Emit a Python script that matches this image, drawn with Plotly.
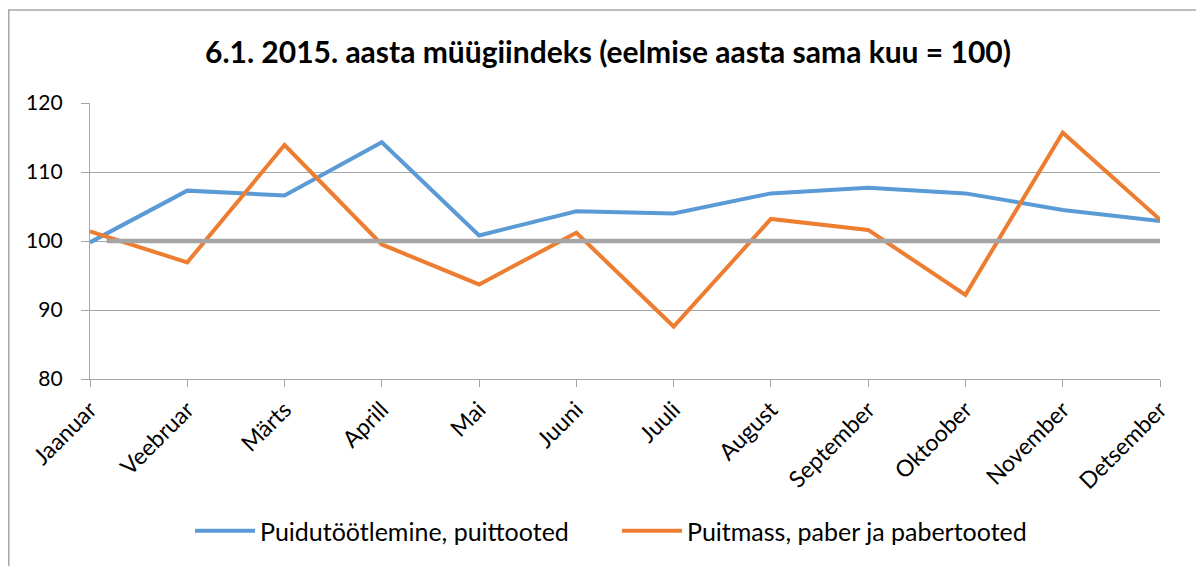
import plotly.graph_objects as go

months = ["Jaanuar", "Veebruar", "Märts", "Aprill", "Mai", "Juuni", "Juuli",
          "August", "September", "Oktoober", "November", "Detsember"]
puidutootlemine = [99.8, 107.3, 106.6, 114.3, 100.8, 104.3, 104.0, 106.9, 107.7, 106.9, 104.5, 102.9]
puitmass = [101.4, 96.9, 113.9, 99.5, 93.7, 101.2, 87.6, 103.2, 101.6, 92.2, 115.7, 103.1]
baseline = 100
yticks = [80, 90, 100, 110, 120]
names = ["Puidutöötlemine, puittooted", "Puitmass, paber ja pabertooted"]

font = "Lato, 'Open Sans', sans-serif"
x = list(range(len(months)))

W, H = 1196, 558
L, R, T, B = 82, 44, 95, 187
pw, ph = W - L - R, H - T - B

fig = go.Figure()
fig.add_trace(go.Scatter(x=x, y=puidutootlemine, mode="lines", name=names[0],
                         line=dict(color="#5B9BD5", width=4), legend="legend"))
fig.add_trace(go.Scatter(x=x, y=puitmass, mode="lines", name=names[1],
                         line=dict(color="#ED7D31", width=4), legend="legend2"))

fig.add_shape(type="line", xref="x", yref="y", x0=0.17, x1=11.13, y0=baseline, y1=baseline,
              line=dict(color="#A5A5A5", width=4.5), layer="above")
fig.add_shape(type="rect", xref="paper", yref="paper",
              x0=(0.8 - L) / pw, x1=1 + (R + 20) / pw, y0=1 + (T - 2) / ph, y1=-(B + 20) / ph,
              line=dict(color="#A6A6A6", width=1.5))

leg_common = dict(orientation="h", xanchor="left", y=-152 / ph, yanchor="middle",
                  font=dict(size=25, family=font, color="black"),
                  itemwidth=60, bgcolor="rgba(0,0,0,0)")

fig.update_layout(
    width=W, height=H,
    margin=dict(l=L, r=R, t=T, b=B),
    paper_bgcolor="white", plot_bgcolor="white",
    font=dict(family=font, color="black"),
    title=dict(text="<b>6.1. 2015. aasta müügiindeks (eelmise aasta sama kuu = 100)</b>",
               x=0.5 + 2 / W, xref="container", xanchor="center",
               y=1 - 44 / H, yref="container", yanchor="middle",
               font=dict(size=30, family=font, color="black")),
    showlegend=True,
    legend=dict(x=(98 - L - 8) / pw + 0.0, **leg_common),
    legend2=dict(x=(525 - L - 8) / pw + 0.0, **leg_common),
)
fig.update_layout(legend_x=(190 - 90) / pw, legend2_x=(617 - 90) / pw)
fig.update_xaxes(range=[0, 11], tickvals=x, ticktext=months, tickangle=-45,
                 showgrid=False, zeroline=False, showline=True, linecolor="#A6A6A6", linewidth=1.3,
                 ticks="outside", ticklen=7, tickcolor="#A6A6A6", tickwidth=1.3,
                 tickfont=dict(size=23, family=font, color="black"))
fig.update_yaxes(range=[80, 120], tickvals=yticks, showgrid=True, gridcolor="#A6A6A6", gridwidth=1.3,
                 zeroline=False, showline=True, linecolor="#A6A6A6", linewidth=1.3,
                 ticks="outside", ticklen=8, tickcolor="#A6A6A6", tickwidth=1.3,
                 ticklabelstandoff=14,
                 tickfont=dict(size=21, family=font, color="black"))

fig.write_html("out.html")
